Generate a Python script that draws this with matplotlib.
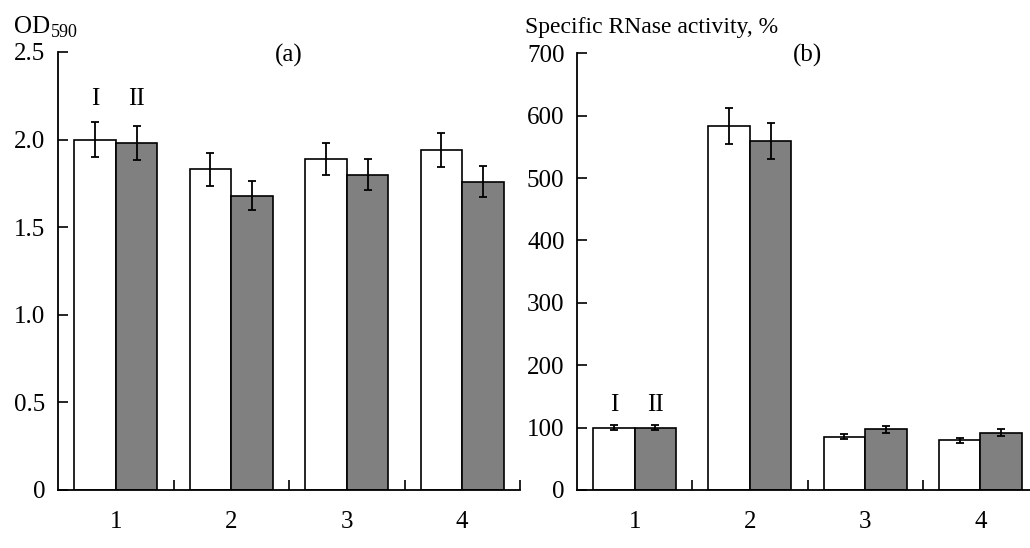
import matplotlib
matplotlib.use("Agg")
import matplotlib.pyplot as plt
import numpy as np

plt.rcParams['font.family'] = ['Liberation Serif', 'DejaVu Serif']

categories = ["1", "2", "3", "4"]
od_I = [2.00, 1.83, 1.89, 1.94]
od_I_err = [0.10, 0.095, 0.09, 0.097]
od_II = [1.98, 1.68, 1.80, 1.76]
od_II_err = [0.095, 0.083, 0.087, 0.09]

rn_I = [100, 584, 85, 80]
rn_I_err = [4, 29, 4, 4]
rn_II = [100, 560, 97, 92]
rn_II_err = [4, 29, 5, 5]

W, H = 1030, 548
fig = plt.figure(figsize=(W / 100, H / 100), dpi=100)

def px_axes(left, right, top, bottom):
    return fig.add_axes([left / W, 1 - bottom / H, (right - left) / W, (bottom - top) / H])

ax_a = px_axes(58, 520, 52, 490)
ax_b = px_axes(577, 1038, 53.3, 490)

fs = 18
bw = 0.36
x = np.arange(1, len(categories) + 1)

def draw(ax, v1, e1, v2, e2, ylim, yticks, yticklabels):
    ax.bar(x - bw / 2, v1, bw, color='white', edgecolor='black', linewidth=1.2, zorder=2)
    ax.bar(x + bw / 2, v2, bw, color='#808080', edgecolor='black', linewidth=1.2, zorder=2)
    ax.errorbar(x - bw / 2, v1, yerr=e1, fmt='none', ecolor='black', elinewidth=1.3, capsize=3, capthick=1.3, zorder=3)
    ax.errorbar(x + bw / 2, v2, yerr=e2, fmt='none', ecolor='black', elinewidth=1.3, capsize=3, capthick=1.3, zorder=3)
    ax.set_xlim(0.5, 4.5)
    ax.set_ylim(*ylim)
    ax.set_yticks(yticks)
    ax.set_yticklabels(yticklabels)
    ax.set_xticks(x)
    ax.set_xticklabels(categories)
    ax.set_xticks([1.5, 2.5, 3.5, 4.5], minor=True)
    ax.tick_params(axis='x', which='major', length=0, pad=15, labelsize=fs)
    ax.tick_params(axis='x', which='minor', direction='in', length=7, width=1.2)
    ax.tick_params(axis='y', which='major', direction='in', length=7, width=1.2, pad=9, labelsize=fs)
    for s in ['top', 'right']:
        ax.spines[s].set_visible(False)
    for s in ['left', 'bottom']:
        ax.spines[s].set_linewidth(1.3)
    ax.patch.set_alpha(0)

draw(ax_a, od_I, od_I_err, od_II, od_II_err, (0, 2.5),
     [0, 0.5, 1.0, 1.5, 2.0, 2.5], ['0', '0.5', '1.0', '1.5', '2.0', '2.5'])
draw(ax_b, rn_I, rn_I_err, rn_II, rn_II_err, (0, 700),
     [0, 100, 200, 300, 400, 500, 600, 700], ['0', '100', '200', '300', '400', '500', '600', '700'])

# labels I / II
ax_a.text(1 - bw / 2, 2.23, 'I', ha='center', va='center', fontsize=fs)
ax_a.text(1 + bw / 2, 2.23, 'II', ha='center', va='center', fontsize=fs)
ax_b.text(1 - bw / 2, 137, 'I', ha='center', va='center', fontsize=fs)
ax_b.text(1 + bw / 2, 137, 'II', ha='center', va='center', fontsize=fs)

fig.text(289 / W, 1 - 55 / H, '(a)', ha='center', va='center', fontsize=fs)
fig.text(807 / W, 1 - 55 / H, '(b)', ha='center', va='center', fontsize=fs)

fig.text(14 / W, 1 - 33 / H, 'OD', ha='left', va='baseline', fontsize=fs)
fig.text(51 / W, 1 - 37 / H, '590', ha='left', va='baseline', fontsize=13)
fig.text(525 / W, 1 - 33 / H, 'Specific RNase activity, %', ha='left', va='baseline', fontsize=17)

fig.savefig('out.png', dpi=100)
